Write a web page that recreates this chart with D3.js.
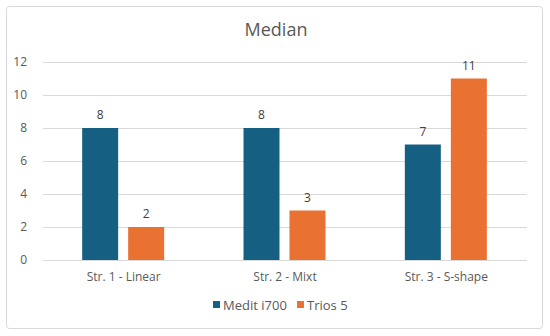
<!DOCTYPE html>
<html>
<head>
<meta charset="utf-8">
<script src="https://cdn.jsdelivr.net/npm/d3@7"></script>
<style>
  html, body { margin: 0; padding: 0; background: #fff; overflow: hidden; }
  svg { display: block; font-family: "Open Sans", "Noto Sans", sans-serif; }
</style>
</head>
<body>
<div id="chart"></div>
<script>
// Chart values
const categories = ["Str. 1 - Linear", "Str. 2 - Mixt", "Str. 3 - S-shape"];
const seriesNames = ["Medit i700", "Trios 5"];
const meditValues = [8, 8, 7];
const triosValues = [2, 3, 11];
const yTicks = [0, 2, 4, 6, 8, 10, 12];
const colors = ["#156082", "#E97132"];

const width = 550, height = 336;
const margin = { top: 62, right: 23, bottom: 76, left: 43 };
const innerWidth = width - margin.left - margin.right;
const innerHeight = height - margin.top - margin.bottom;

const svg = d3.select("#chart").append("svg")
  .attr("width", width)
  .attr("height", height);

// Outer chart frame
svg.append("rect")
  .attr("x", 6.5).attr("y", 6.5)
  .attr("width", 536).attr("height", 322)
  .attr("rx", 3)
  .attr("fill", "none")
  .attr("stroke", "#d9d9d9");

svg.append("text")
  .attr("x", width / 2 + 1)
  .attr("y", 36)
  .attr("text-anchor", "middle")
  .attr("font-size", 18)
  .attr("fill", "#595959")
  .text("Median");

const plot = svg.append("g").attr("transform", `translate(${margin.left},${margin.top})`);

const x0 = d3.scaleBand().domain(categories).range([0, innerWidth]);
const y = d3.scaleLinear().domain([0, 12]).range([innerHeight, 0]);

// Gridlines
plot.append("g")
  .selectAll("line")
  .data(yTicks)
  .join("line")
  .attr("x1", 0).attr("x2", innerWidth)
  .attr("y1", d => y(d) + 0.5).attr("y2", d => y(d) + 0.5)
  .attr("stroke", "#d9d9d9");

// Y tick labels
plot.append("g")
  .selectAll("text")
  .data(yTicks)
  .join("text")
  .attr("x", -16)
  .attr("y", d => y(d) + 4)
  .attr("text-anchor", "end")
  .attr("font-size", 12)
  .attr("fill", "#595959")
  .text(d => d);

const rows = categories.map((c, i) => ({ category: c, values: [meditValues[i], triosValues[i]] }));

const barWidth = 36, barGap = 10;
const x1 = d3.scaleOrdinal().domain([0, 1]).range([-(barWidth + barGap / 2), barGap / 2]);

const groups = plot.selectAll("g.cat")
  .data(rows)
  .join("g")
  .attr("class", "cat")
  .attr("transform", d => `translate(${x0(d.category) + x0.bandwidth() / 2 - 0.5},0)`);

groups.selectAll("rect")
  .data(d => d.values.map((v, s) => ({ v, s })))
  .join("rect")
  .attr("x", d => x1(d.s))
  .attr("y", d => y(d.v))
  .attr("width", barWidth)
  .attr("height", d => innerHeight - y(d.v))
  .attr("fill", d => colors[d.s]);

groups.selectAll("text.val")
  .data(d => d.values.map((v, s) => ({ v, s })))
  .join("text")
  .attr("class", "val")
  .attr("x", d => x1(d.s) + barWidth / 2)
  .attr("y", d => y(d.v) - 9)
  .attr("text-anchor", "middle")
  .attr("font-size", 12)
  .attr("fill", "#404040")
  .text(d => d.v);

// Category labels
plot.append("g")
  .selectAll("text")
  .data(categories)
  .join("text")
  .attr("x", d => x0(d) + x0.bandwidth() / 2)
  .attr("y", innerHeight + 21)
  .attr("text-anchor", "middle")
  .attr("font-size", 12)
  .attr("fill", "#595959")
  .text(d => d);

// Legend
const legend = svg.append("g").attr("transform", "translate(213,306)");
const legendX = [0, 84];
seriesNames.forEach((name, i) => {
  const g = legend.append("g").attr("transform", `translate(${legendX[i]},0)`);
  g.append("rect").attr("x", 0).attr("y", -5).attr("width", 7).attr("height", 7).attr("fill", colors[i]);
  g.append("text").attr("x", 10).attr("y", 3.5).attr("font-size", 13).attr("fill", "#595959").text(name);
});
</script>
</body>
</html>
